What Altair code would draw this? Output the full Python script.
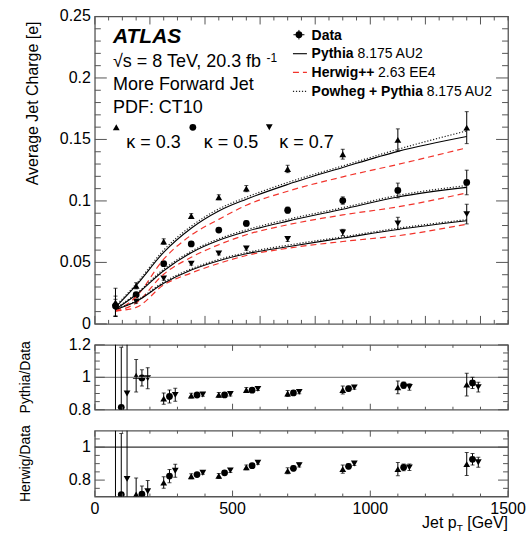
import altair as alt
import pandas as pd

FONT = "Liberation Sans"
FRAME = "#555555"

# jet pT bin centres [GeV]
pt_bins = [75, 150, 250, 350, 450, 550, 700, 900, 1100, 1350]
kappas = ["0.3", "0.5", "0.7"]

# unfolded data: average jet charge [e] and total uncertainty
data_k03 = [0.0175, 0.0310, 0.0670, 0.0877, 0.1030, 0.1100, 0.1260, 0.1380, 0.1496, 0.1596]
data_k05 = [0.0146, 0.0238, 0.0490, 0.0650, 0.0763, 0.0817, 0.0925, 0.1003, 0.1085, 0.1150]
data_k07 = [0.0130, 0.0183, 0.0370, 0.0490, 0.0573, 0.0614, 0.0690, 0.0744, 0.0817, 0.0893]
err_k03 = [0.0115, 0.0025, 0.0022, 0.0020, 0.0020, 0.0025, 0.0030, 0.0040, 0.0090, 0.0130]
err_k05 = [0.0080, 0.0015, 0.0015, 0.0015, 0.0015, 0.0020, 0.0025, 0.0030, 0.0060, 0.0100]
err_k07 = [0.0070, 0.0015, 0.0015, 0.0012, 0.0012, 0.0015, 0.0020, 0.0025, 0.0050, 0.0080]

# uncertainty on the MC/data ratios
rerr_k03 = [0.60, 0.100, 0.035, 0.015, 0.015, 0.015, 0.018, 0.025, 0.040, 0.070]
rerr_k05 = [0.37, 0.050, 0.040, 0.012, 0.012, 0.012, 0.015, 0.015, 0.020, 0.035]
rerr_k07 = [0.50, 0.065, 0.040, 0.010, 0.012, 0.010, 0.012, 0.012, 0.020, 0.030]

# generator predictions
pythia_k03 = [0.0135, 0.0313, 0.0582, 0.0778, 0.0918, 0.1014, 0.1134, 0.1272, 0.1403, 0.1524]
pythia_k05 = [0.0119, 0.0237, 0.0432, 0.0579, 0.0680, 0.0752, 0.0836, 0.0933, 0.1032, 0.1110]
pythia_k07 = [0.0117, 0.0182, 0.0330, 0.0438, 0.0514, 0.0570, 0.0628, 0.0698, 0.0768, 0.0839]
herwig_k03 = [0.0105, 0.0221, 0.0526, 0.0722, 0.0850, 0.0965, 0.1079, 0.1196, 0.1297, 0.1432]
herwig_k05 = [0.0104, 0.0170, 0.0404, 0.0542, 0.0644, 0.0725, 0.0806, 0.0886, 0.0952, 0.1065]
herwig_k07 = [0.0105, 0.0134, 0.0317, 0.0414, 0.0492, 0.0556, 0.0615, 0.0670, 0.0717, 0.0811]
powheg_k03 = [0.0145, 0.0325, 0.0600, 0.0795, 0.0935, 0.1030, 0.1150, 0.1285, 0.1420, 0.1570]
powheg_k05 = [0.0125, 0.0245, 0.0445, 0.0590, 0.0692, 0.0765, 0.0850, 0.0945, 0.1045, 0.1125]
powheg_k07 = [0.0120, 0.0188, 0.0340, 0.0448, 0.0524, 0.0580, 0.0640, 0.0708, 0.0778, 0.0848]

# axis tick labels
x_tick_vals = [0, 500, 1000, 1500]
x_tick_text = ["0", "500", "1000", "1500"]
y_main_vals = [0, 0.05, 0.1, 0.15, 0.2, 0.25]
y_main_text = ["0", "0.05", "0.1", "0.15", "0.2", "0.25"]
y_r1_vals = [0.8, 1.0, 1.2]
y_r1_text = ["0.8", "1", "1.2"]
y_r2_vals = [0.8, 1.0]
y_r2_text = ["0.8", "1"]

# horizontal shift of the kappa series in the ratio panels [GeV]
ratio_shift = {"0.3": 0, "0.5": 21, "0.7": 42}

rows = []
series = zip(kappas,
             [data_k03, data_k05, data_k07], [err_k03, err_k05, err_k07],
             [rerr_k03, rerr_k05, rerr_k07],
             [pythia_k03, pythia_k05, pythia_k07],
             [herwig_k03, herwig_k05, herwig_k07],
             [powheg_k03, powheg_k05, powheg_k07])
for k, dat, err, rerr, py, hw, pw in series:
    for i, x in enumerate(pt_bins):
        r_py = py[i] / dat[i]
        r_hw = hw[i] / dat[i]
        rows.append(dict(kappa=k, pt=x, pt_r=x + ratio_shift[k],
                         val=dat[i], lo=dat[i] - err[i], hi=dat[i] + err[i],
                         pythia=py[i], herwig=hw[i], powheg=pw[i],
                         r_py=r_py, r_py_lo=r_py - rerr[i], r_py_hi=r_py + rerr[i],
                         r_hw=r_hw, r_hw_lo=r_hw - rerr[i], r_hw_hi=r_hw + rerr[i]))
df = pd.DataFrame(rows)

W = 414
H_MAIN, H_R1, H_R2 = 308, 65, 66

x_scale = alt.Scale(domain=[0, 1500], nice=False, zero=False)
y_main = alt.Scale(domain=[0, 0.25], nice=False)
y_r1 = alt.Scale(domain=[0.8, 1.2], nice=False, zero=False)
y_r2 = alt.Scale(domain=[0.7, 1.1], nice=False, zero=False)
shape_scale = alt.Scale(domain=kappas, range=["triangle-up", "circle", "triangle-down"])

one = pd.DataFrame({"o": [0]})


def frame_ticks(xs, ys, x_major, x_minor, y_major, y_minor, h, xlen, ylen):
    """Inward ticks on all four sides of a panel."""
    out = []
    for vals, L in ((x_major, xlen[0]), (x_minor, xlen[1])):
        base = alt.Chart(pd.DataFrame({"v": vals})).mark_rule(color=FRAME, strokeWidth=1)
        xe = alt.X("v:Q", scale=xs, axis=None)
        out.append(base.encode(x=xe, y=alt.value(h), y2=alt.value(h - L)))
        out.append(base.encode(x=xe, y=alt.value(0), y2=alt.value(L)))
    for vals, L in ((y_major, ylen[0]), (y_minor, ylen[1])):
        base = alt.Chart(pd.DataFrame({"v": vals})).mark_rule(color=FRAME, strokeWidth=1)
        ye = alt.Y("v:Q", scale=ys, axis=None)
        out.append(base.encode(y=ye, x=alt.value(0), x2=alt.value(L)))
        out.append(base.encode(y=ye, x=alt.value(W), x2=alt.value(W - L)))
    return out


def y_labels(vals, texts, ys):
    return alt.Chart(pd.DataFrame({"v": vals, "t": texts})).mark_text(
        font=FONT, fontSize=16, align="right", baseline="middle", color="black", dx=-4
    ).encode(y=alt.Y("v:Q", scale=ys, axis=None), x=alt.value(0), text="t:N")


def text(t, x, y, size, weight="normal", style="normal", align="left",
         baseline="alphabetic", angle=0):
    return alt.Chart(one).mark_text(text=t, font=FONT, fontSize=size, fontWeight=weight,
                                    fontStyle=style, align=align, baseline=baseline,
                                    angle=angle, color="black"
                                    ).encode(x=alt.value(x), y=alt.value(y))


base = alt.Chart(df)
x_main = alt.X("pt:Q", scale=x_scale, axis=None)

# ---------- main panel ----------
main_points = base.mark_point(filled=True, color="black", opacity=1, size=46).encode(
    x=x_main,
    y=alt.Y("val:Q", scale=y_main, axis=None),
    shape=alt.Shape("kappa:N", scale=shape_scale, legend=None),
)
main_err = base.mark_rule(color="black", strokeWidth=1).encode(
    x=x_main, y=alt.Y("lo:Q", scale=y_main, axis=None), y2="hi:Q")
main_cap_hi = base.mark_tick(color="black", orient="horizontal", size=4, thickness=1).encode(
    x=x_main, y=alt.Y("hi:Q", scale=y_main, axis=None))
main_cap_lo = base.mark_tick(color="black", orient="horizontal", size=4, thickness=1).encode(
    x=x_main, y=alt.Y("lo:Q", scale=y_main, axis=None))


def mc_line(field, **style):
    return base.mark_line(interpolate="monotone", **style).encode(
        x=x_main, y=alt.Y(f"{field}:Q", scale=y_main, axis=None), detail="kappa:N")


line_py = mc_line("pythia", color="black", strokeWidth=1.1)
line_hw = mc_line("herwig", color="#f2332b", strokeWidth=1.2, strokeDash=[6, 4])
line_pw = mc_line("powheg", color="#222222", strokeWidth=1.2, strokeDash=[1.2, 1.8])

main_ticks = frame_ticks(
    x_scale, y_main,
    list(range(0, 1501, 200)), [v for v in range(0, 1501, 50) if v % 200],
    y_main_vals, [round(i * 0.01, 2) for i in range(26) if i % 5],
    H_MAIN, (8, 4), (12, 6))

# labels and legend
labels = [
    y_labels(y_main_vals, y_main_text, y_main),
    text("Average Jet Charge [e]", -61.5, 5, 16, align="right", baseline="middle", angle=270),
    text("ATLAS", 18.2, 26.7, 21, weight="bold", style="italic"),
    text("\u221as = 8 TeV, 20.3 fb", 18.2, 51, 18),
    text("-1", 172, 45.5, 12),
    text("More Forward Jet", 18.2, 73.3, 18),
    text("PDF: CT10", 18.2, 96.7, 18),
    text("\u03ba = 0.3", 31.5, 131.7, 18),
    text("\u03ba = 0.5", 109.2, 131.7, 18),
    text("\u03ba = 0.7", 184.8, 131.7, 18),
    text("Data", 217.2, 23.3, 14, weight="bold"),
    text("Pythia", 217.2, 42, 14, weight="bold"),
    text("8.175 AU2", 263.2, 42, 14),
    text("Herwig++", 217.2, 61, 14, weight="bold"),
    text("2.63 EE4", 283.8, 61, 14),
    text("Powheg + Pythia", 217.2, 80, 14, weight="bold"),
    text("8.175 AU2", 332.5, 80, 14),
]
kappa_markers = [
    alt.Chart(one).mark_point(filled=True, color="black", opacity=1, size=46, shape=s)
    .encode(x=alt.value(px), y=alt.value(111))
    for s, px in (("triangle-up", 21.5), ("circle", 98.2), ("triangle-down", 174.8))
]
legend_glyphs = [
    alt.Chart(one).mark_rule(color="black", strokeWidth=1).encode(
        x=alt.value(204.5), y=alt.value(13.5), y2=alt.value(23)),
    alt.Chart(one).mark_rule(color="black", strokeWidth=1).encode(
        x=alt.value(199), x2=alt.value(210), y=alt.value(18.3)),
    alt.Chart(one).mark_point(filled=True, color="black", opacity=1, size=46, shape="circle")
    .encode(x=alt.value(204.5), y=alt.value(18.3)),
    alt.Chart(one).mark_rule(color="black", strokeWidth=1.1).encode(
        x=alt.value(198.5), x2=alt.value(212.5), y=alt.value(37.3)),
    alt.Chart(one).mark_rule(color="#f2332b", strokeWidth=1.2, strokeDash=[6, 4]).encode(
        x=alt.value(198.5), x2=alt.value(212.5), y=alt.value(56)),
    alt.Chart(one).mark_rule(color="#222222", strokeWidth=1.2, strokeDash=[1.2, 1.8]).encode(
        x=alt.value(198.5), x2=alt.value(212.5), y=alt.value(75)),
]

main = alt.layer(main_points, line_hw, line_pw, line_py, main_err, main_cap_hi, main_cap_lo,
                 *main_ticks, *labels, *kappa_markers, *legend_glyphs
                 ).properties(width=W, height=H_MAIN)


# ---------- ratio panels ----------
def ratio_panel(field, yscale, h, yticks, ytext, yminor, title, ref_color):
    xr = alt.X("pt_r:Q", scale=x_scale, axis=None)
    ref = alt.Chart(pd.DataFrame({"r": [1.0]})).mark_rule(color=ref_color, strokeWidth=1.3).encode(
        y=alt.Y("r:Q", scale=yscale, axis=None))
    pts = base.mark_point(filled=True, color="black", opacity=1, size=46, clip=True).encode(
        x=xr,
        y=alt.Y(f"{field}:Q", scale=yscale, axis=None),
        shape=alt.Shape("kappa:N", scale=shape_scale, legend=None))
    err = base.mark_rule(color="black", strokeWidth=1, clip=True).encode(
        x=xr, y=alt.Y(f"{field}_lo:Q", scale=yscale, axis=None), y2=f"{field}_hi:Q")
    caps = [base.mark_tick(color="black", orient="horizontal", size=4, thickness=1, clip=True)
            .encode(x=xr, y=alt.Y(f"{field}_{e}:Q", scale=yscale, axis=None))
            for e in ("lo", "hi")]
    ticks = frame_ticks(x_scale, yscale, x_tick_vals,
                        [v for v in range(0, 1501, 100) if v % 500],
                        yticks, yminor, h, (6, 3), (10, 5))
    lab = y_labels(yticks, ytext, yscale)
    ttl = text(title, -68.5, h / 2, 14, align="center", baseline="middle", angle=270)
    return alt.layer(pts, ref, err, *caps, *ticks, lab, ttl).properties(width=W, height=h)


r1 = ratio_panel("r_py", y_r1, H_R1, y_r1_vals, y_r1_text,
                 [0.85, 0.9, 0.95, 1.05, 1.1, 1.15], "Pythia/Data", "#8a8a8a")
r2 = ratio_panel("r_hw", y_r2, H_R2, y_r2_vals, y_r2_text,
                 [0.75, 0.85, 0.9, 0.95, 1.05], "Herwig/Data", "#333333")

# x tick labels and axis title (p with subscript T) under the last panel
x_labels = alt.Chart(pd.DataFrame({"v": x_tick_vals, "t": x_tick_text})).mark_text(
    font=FONT, fontSize=16, align="center", baseline="top", color="black"
).encode(x=alt.X("v:Q", scale=x_scale, axis=None), y=alt.value(H_R2 + 4), text="t:N")
x_title = [
    text("Jet p", W - 86.1, H_R2 + 31, 16),
    text("T", W - 51.4, H_R2 + 34.5, 10),
    text("[GeV]", W - 40.9, H_R2 + 31, 16),
]
r2 = alt.layer(r2, x_labels, *x_title)

chart = alt.vconcat(main, r1, r2, spacing=21, bounds="flush").properties(
    padding={"left": 18, "top": 7, "right": 3, "bottom": 0},
    background="white",
).configure_view(stroke=FRAME, strokeWidth=1.3)

chart.save("out.html", embed_options={"renderer": "svg", "actions": False})
